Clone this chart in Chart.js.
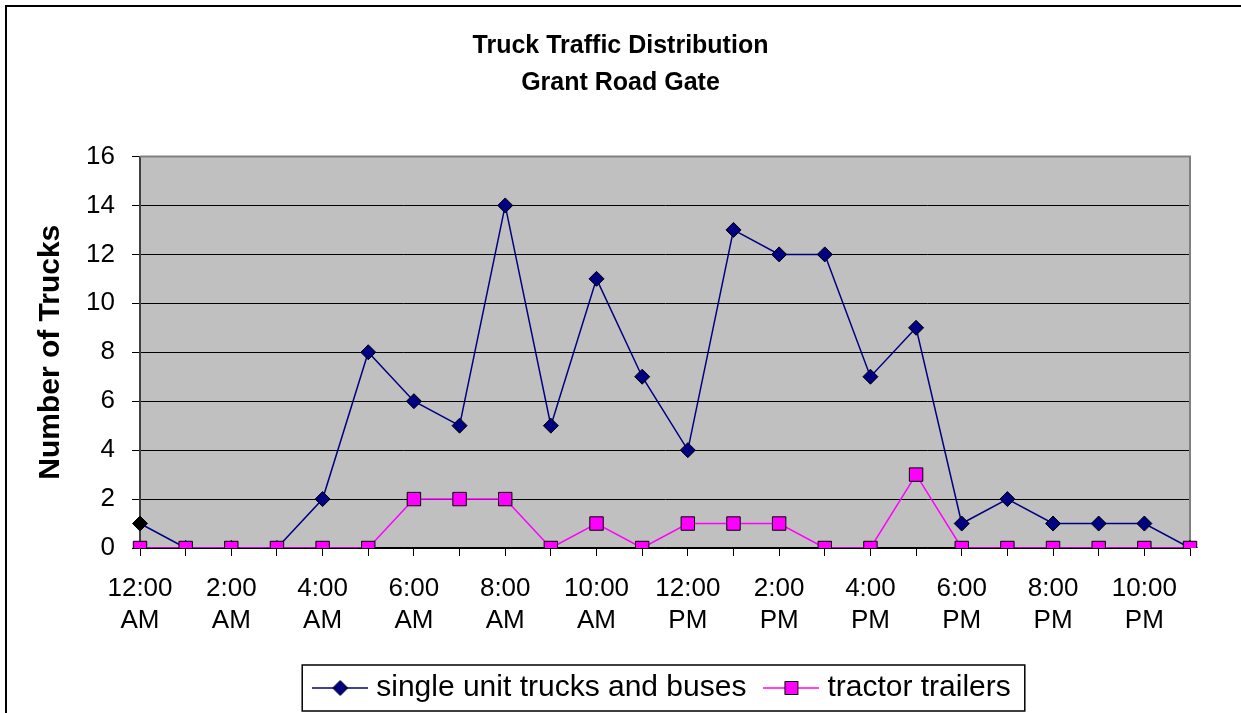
<!DOCTYPE html>
<html lang="en">
<head>
<meta charset="UTF-8">
<title>Truck Traffic Distribution - Grant Road Gate</title>
<script src="https://cdn.jsdelivr.net/npm/chart.js"></script>
<style>
    html, body { margin: 0; padding: 0; background: #fff; }
    #wrap { width: 1241px; height: 713px; position: relative; }
</style>
</head>
<body>
<div id="wrap"><canvas id="truckChart"></canvas></div>
<script>
const hours = [
    '12:00 AM', '1:00 AM', '2:00 AM', '3:00 AM', '4:00 AM', '5:00 AM',
    '6:00 AM', '7:00 AM', '8:00 AM', '9:00 AM', '10:00 AM', '11:00 AM',
    '12:00 PM', '1:00 PM', '2:00 PM', '3:00 PM', '4:00 PM', '5:00 PM',
    '6:00 PM', '7:00 PM', '8:00 PM', '9:00 PM', '10:00 PM', '11:00 PM'
];
const singleUnit = [1, 0, 0, 0, 2, 8, 6, 5, 14, 5, 11, 7, 4, 13, 12, 12, 7, 9, 1, 2, 1, 1, 1, 0];
const tractorTrailers = [0, 0, 0, 0, 0, 0, 2, 2, 2, 0, 1, 0, 1, 1, 1, 0, 0, 3, 0, 0, 0, 0, 0, 0];
const seriesNames = ['single unit trucks and buses', 'tractor trailers'];
const yTicks = [0, 2, 4, 6, 8, 10, 12, 14, 16];

const FONT = 'Arial, "Liberation Sans", sans-serif';

// legend symbols: short line with the marker in the middle
function legendSymbol(color, marker) {
    const c = document.createElement('canvas');
    c.width = 56; c.height = 18;
    const g = c.getContext('2d');
    g.strokeStyle = color;
    g.lineWidth = 1.5;
    g.beginPath(); g.moveTo(0, 9); g.lineTo(56, 9); g.stroke();
    g.lineWidth = 1;
    g.strokeStyle = '#000';
    g.fillStyle = marker === 'diamond' ? '#000080' : '#ff00ff';
    g.beginPath();
    if (marker === 'diamond') {
        g.moveTo(28, 1.5); g.lineTo(35.5, 9); g.lineTo(28, 16.5); g.lineTo(20.5, 9);
        g.closePath();
    } else {
        g.rect(21.5, 2.5, 13, 13);
    }
    g.fill(); g.stroke();
    return c;
}
const legendSymbols = [legendSymbol('#000080', 'diamond'), legendSymbol('#ff00ff', 'square')];

const decor = {
    id: 'decor',
    beforeDraw(chart) {
        const { ctx, chartArea: a } = chart;
        ctx.save();
        ctx.fillStyle = '#c0c0c0';
        ctx.fillRect(a.left, a.top, a.right - a.left, a.bottom - a.top);
        ctx.restore();
    },
    beforeDatasetsDraw(chart) {
        const { ctx, chartArea: a } = chart;
        ctx.save();
        ctx.strokeStyle = '#808080';
        ctx.lineWidth = 2;
        ctx.beginPath();
        ctx.moveTo(a.left, a.top);
        ctx.lineTo(a.right, a.top);
        ctx.lineTo(a.right, a.bottom);
        ctx.stroke();
        ctx.restore();
    },
    afterDraw(chart) {
        const ctx = chart.ctx;
        ctx.save();
        // outer frame (only top and left are inside the picture)
        ctx.fillStyle = '#000';
        ctx.fillRect(5, 5, chart.width, 2);
        ctx.fillRect(5, 5, 2, chart.height);
        // legend frame
        const lg = chart.legend;
        const hb = lg.legendHitBoxes;
        if (hb && hb.length) {
            const pad = lg.options.labels.padding;
            const cy = lg.top + pad + 15;
            const last = hb[hb.length - 1];
            const x0 = hb[0].left - 17;
            const x1 = last.left + last.width + 14;
            ctx.strokeStyle = '#000';
            ctx.lineWidth = 1.5;
            ctx.strokeRect(x0, cy - 23, x1 - x0, 46);
        }
        ctx.restore();
    }
};

new Chart(document.getElementById('truckChart'), {
    type: 'line',
    data: {
        labels: hours,
        datasets: [{
            label: seriesNames[0],
            data: singleUnit,
            borderColor: '#000080',
            borderWidth: 1.5,
            pointStyle: 'rectRot',
            pointRadius: 7.5,
            pointHoverRadius: 7.5,
            pointBackgroundColor: c => c.dataIndex === 0 ? '#000' : '#000080',
            pointBorderColor: '#000',
            pointBorderWidth: 1,
            tension: 0,
            order: 1
        }, {
            label: seriesNames[1],
            data: tractorTrailers,
            borderColor: '#ff00ff',
            borderWidth: 1.5,
            pointStyle: 'rect',
            pointRadius: 9.5,
            pointHoverRadius: 9.5,
            pointBackgroundColor: '#ff00ff',
            pointBorderColor: '#000',
            pointBorderWidth: 1,
            tension: 0,
            order: 0
        }]
    },
    options: {
        responsive: true,
        maintainAspectRatio: false,
        animation: false,
        layout: { padding: 0 },
        plugins: {
            title: {
                display: true,
                text: ['Truck Traffic Distribution', 'Grant Road Gate'],
                color: '#000',
                font: { family: FONT, size: 25, weight: 'bold', lineHeight: 1.47 },
                padding: { top: 28, bottom: 55 }
            },
            legend: {
                position: 'bottom',
                fullSize: false,
                maxHeight: 66,
                labels: {
                    color: '#000',
                    font: { family: FONT, size: 30 },
                    usePointStyle: true,
                    pointStyleWidth: 42,
                    padding: 24,
                    sort: (a, b) => a.datasetIndex - b.datasetIndex,
                    generateLabels(chart) {
                        const items = Chart.defaults.plugins.legend.labels.generateLabels(chart);
                        items.forEach(it => { it.pointStyle = legendSymbols[it.datasetIndex]; });
                        return items;
                    }
                }
            },
            tooltip: { enabled: false }
        },
        scales: {
            x: {
                type: 'category',
                offset: false,
                afterFit(scale) { scale.height = 101; },
                grid: {
                    display: true,
                    drawOnChartArea: false,
                    drawTicks: true,
                    tickLength: 8,
                    color: '#000'
                },
                border: { display: true, color: '#000', width: 1.5 },
                ticks: {
                    autoSkip: false,
                    maxRotation: 0,
                    minRotation: 0,
                    padding: 17,
                    color: '#000',
                    font: { family: FONT, size: 26, lineHeight: 1.23 },
                    callback(value, index) {
                        return index % 2 === 0 ? hours[index].split(' ') : '';
                    }
                }
            },
            y: {
                min: yTicks[0],
                max: yTicks[yTicks.length - 1],
                afterFit(scale) { scale.width = 140; },
                afterBuildTicks(scale) { scale.ticks = yTicks.map(v => ({ value: v })); },
                grid: { color: '#000', lineWidth: 1, tickLength: 8 },
                border: { display: true, color: '#404040', width: 2 },
                ticks: {
                    padding: 17,
                    color: '#000',
                    font: { family: FONT, size: 26 }
                },
                title: {
                    display: true,
                    text: 'Number of Trucks',
                    color: '#000',
                    font: { family: FONT, size: 30, weight: 'bold', lineHeight: 1.2 },
                    padding: { top: 33, bottom: 0 }
                }
            },
            yRight: {
                position: 'right',
                display: true,
                afterFit(scale) { scale.width = 51; },
                grid: { display: false },
                border: { display: false },
                ticks: { display: false }
            }
        }
    },
    plugins: [decor]
});
</script>
</body>
</html>
